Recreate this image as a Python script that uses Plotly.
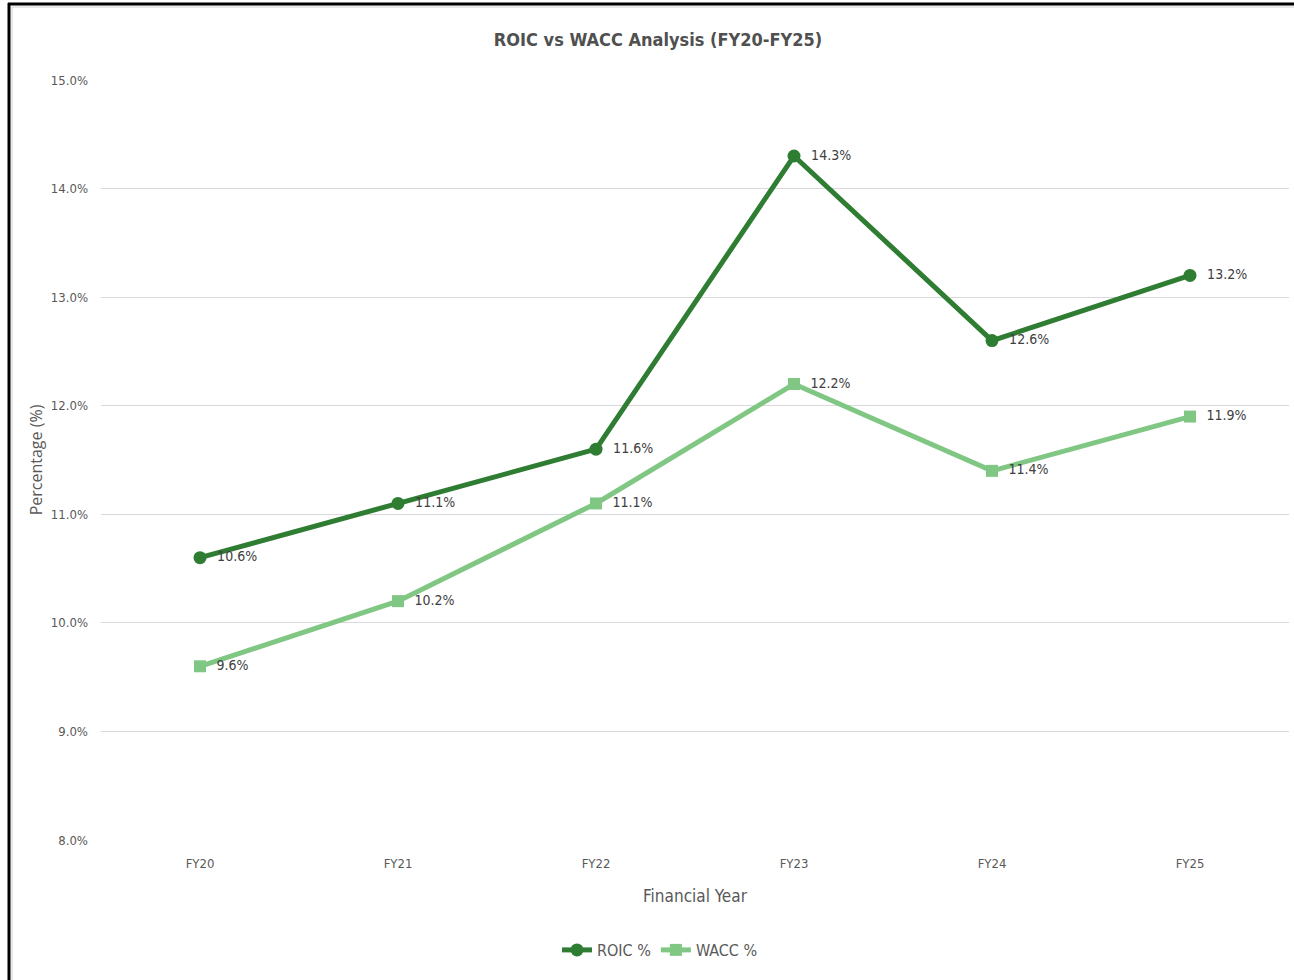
import plotly.graph_objects as go

years = ["FY20", "FY21", "FY22", "FY23", "FY24", "FY25"]
roic = [10.6, 11.1, 11.6, 14.3, 12.6, 13.2]
wacc = [9.6, 10.2, 11.1, 12.2, 11.4, 11.9]
y_ticks = [8, 9, 10, 11, 12, 13, 14, 15]

FONT = "Liberation Sans Narrow, DejaVu Sans Condensed, Arial Narrow, sans-serif"
W, H = 1294, 980
L, R, T, B = 101, 5, 80, 140
pw, ph = W - L - R, H - T - B

def px2x(px):
    return (px - L) / pw

def py2y(py):
    return 1 - (py - T) / ph

fig = go.Figure()
fig.add_trace(go.Scatter(
    x=years, y=roic, name="ROIC %", mode="lines+markers+text",
    line=dict(color="#2e7d32", width=5),
    marker=dict(symbol="circle", size=13, color="#2e7d32"),
    text=[f"  {v:.1f}%" for v in roic], textposition="middle right",
    textfont=dict(family=FONT, size=14, color="#404040"),
))
fig.add_trace(go.Scatter(
    x=years, y=wacc, name="WACC %", mode="lines+markers+text",
    line=dict(color="#81c784", width=5),
    marker=dict(symbol="square", size=12, color="#81c784"),
    text=[f"  {v:.1f}%" for v in wacc], textposition="middle right",
    textfont=dict(family=FONT, size=14, color="#404040"),
))

fig.update_layout(
    width=W, height=H,
    margin=dict(l=L, r=R, t=T, b=B),
    paper_bgcolor="white", plot_bgcolor="white",
    font=dict(family=FONT, color="#595959"),
    title=dict(text="<b>ROIC vs WACC Analysis (FY20-FY25)</b>", x=px2x(658), xref="paper",
               y=1 - 40 / H, yanchor="middle", xanchor="center",
               font=dict(family=FONT, size=18, color="#505050")),
    showlegend=True,
    legend=dict(orientation="h", x=px2x(660), xanchor="center", y=py2y(950), yanchor="middle",
                yref="paper", font=dict(family=FONT, size=16, color="#595959"),
                itemwidth=30, tracegroupgap=0),
    xaxis=dict(type="category", range=[-0.5, 5.5], showgrid=False, showline=False,
               ticks="", tickfont=dict(family=FONT, size=13, color="#595959"),
               ticklabelstandoff=14,
               title=dict(text="Financial Year", standoff=20,
                          font=dict(family=FONT, size=17, color="#595959"))),
    yaxis=dict(range=[8, 15], tickvals=y_ticks, ticktext=[f"{v:.1f}%" for v in y_ticks],
               showgrid=True, gridcolor="#d9d9d9", gridwidth=1, zeroline=False,
               showline=False, ticks="", ticklabelstandoff=12,
               tickfont=dict(family=FONT, size=13, color="#595959"),
               title=dict(text="Percentage (%)", standoff=4,
                          font=dict(family="Open Sans, Noto Sans, sans-serif", size=16, color="#595959"))),
    shapes=[
        dict(type="line", xref="paper", yref="paper", x0=px2x(9), x1=px2x(9),
             y0=py2y(3), y1=py2y(990), line=dict(color="black", width=3)),
        dict(type="line", xref="paper", yref="paper", x0=px2x(8), x1=px2x(1300),
             y0=py2y(4), y1=py2y(4), line=dict(color="black", width=3)),
        dict(type="line", xref="paper", yref="paper", x0=px2x(12), x1=px2x(12),
             y0=py2y(7), y1=py2y(990), line=dict(color="#d0d0d0", width=1)),
        dict(type="line", xref="paper", yref="paper", x0=px2x(12), x1=px2x(1300),
             y0=py2y(7), y1=py2y(7), line=dict(color="#d0d0d0", width=1)),
    ],
)

fig.write_html("out.html")
